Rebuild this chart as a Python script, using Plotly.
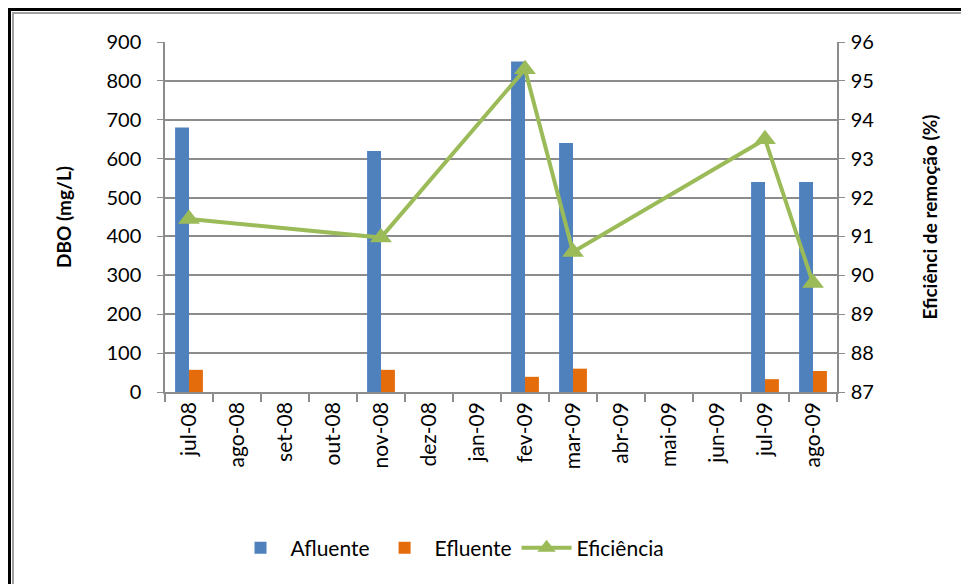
import plotly.graph_objects as go

months = ["jul-08", "ago-08", "set-08", "out-08", "nov-08", "dez-08", "jan-09",
          "fev-09", "mar-09", "abr-09", "mai-09", "jun-09", "jul-09", "ago-09"]
afluente = [680, None, None, None, 620, None, None, 850, 640, None, None, None, 540, 540]
efluente = [57, None, None, None, 57, None, None, 39, 60, None, None, None, 33, 54]
eficiencia = [91.45, None, None, None, 90.97, None, None, 95.3, 90.6, None, None, None, 93.5, 89.8]

FONT = "Lato"
GRID = "#8c8c8c"

fig = go.Figure()
fig.add_trace(go.Bar(x=months, y=afluente, name="Afluente", marker_color="#4F81BD",
                     marker_line_width=0))
fig.add_trace(go.Bar(x=months, y=efluente, name="Efluente", marker_color="#E46C0A",
                     marker_line_width=0))
fig.add_trace(go.Scatter(x=months, y=eficiencia, name="Eficiência", yaxis="y2",
                         mode="lines+markers", connectgaps=True,
                         line=dict(color="#9BBB59", width=4),
                         marker=dict(symbol="triangle-up", size=19, color="#9BBB59")))

L, R, T, B = 165, 124, 42, 192
W, H = 961, 584
pw, ph = W - L - R, H - T - B

def px(x):
    return (x - L) / pw

def py(y):
    return (H - B - y) / ph

fig.update_layout(
    width=W, height=H,
    margin=dict(l=L, r=R, t=T, b=B, autoexpand=False),
    paper_bgcolor="white", plot_bgcolor="white",
    font=dict(family=FONT, size=18, color="#000000"),
    barmode="group", bargap=0.42, bargroupgap=0,
    showlegend=True,
    legend=dict(orientation="h", x=px(450), y=py(548), xanchor="center", yanchor="middle",
                font=dict(size=21, family=FONT), itemwidth=50, traceorder="normal"),
    xaxis=dict(type="category", range=[-0.5, 13.5], tickangle=-90, tickfont=dict(size=21),
               automargin=False, domain=[0, 1],
               showgrid=False, showline=True, linecolor=GRID, linewidth=1.5,
               ticks="outside", tickson="boundaries", ticklen=8, tickcolor=GRID,
               tickwidth=1.5),
    yaxis=dict(range=[0, 900], dtick=100, tickfont=dict(size=20), automargin=False,
               showgrid=True, gridcolor=GRID, gridwidth=1.5,
               showline=True, linecolor=GRID, linewidth=1.5,
               ticks="outside", ticklen=6, tickcolor=GRID, zeroline=False,
               ticklabelstandoff=12,
               title=dict(text="<b>DBO (mg/L)</b>", font=dict(size=19), standoff=30)),
    yaxis2=dict(range=[87, 96], dtick=1, overlaying="y", side="right", automargin=False,
                tickfont=dict(size=20), showgrid=False,
                showline=True, linecolor=GRID, linewidth=1.5,
                ticks="outside", ticklen=6, tickcolor=GRID, zeroline=False,
                ticklabelstandoff=2,
                title=dict(text="<b>Eficiênci de remoção (%)</b>", font=dict(size=19), standoff=50)),
    shapes=[
        dict(type="rect", xref="paper", yref="paper",
             x0=px(9.5), x1=px(W + 3), y0=py(H + 3), y1=py(9.5),
             line=dict(color="black", width=3), fillcolor="rgba(0,0,0,0)", layer="below"),
        dict(type="rect", xref="paper", yref="paper",
             x0=px(13), x1=px(W + 3), y0=py(H + 3), y1=py(13),
             line=dict(color="#a0a0a0", width=2), fillcolor="rgba(0,0,0,0)", layer="below"),
    ],
)

fig.write_html("out.html")
